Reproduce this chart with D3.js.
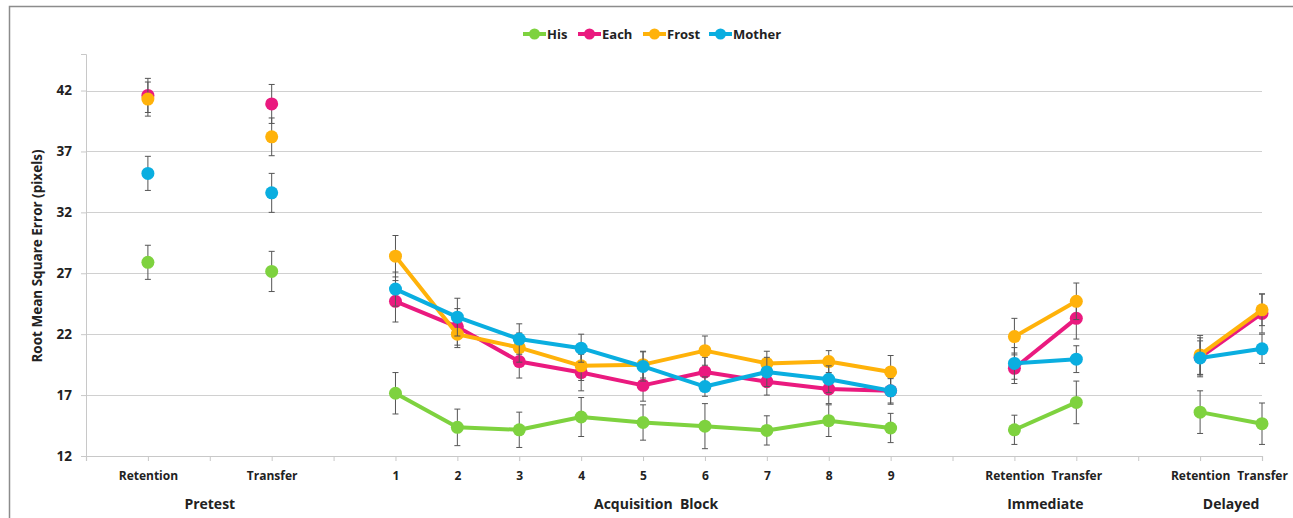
<!DOCTYPE html>
<html>
<head>
<meta charset="utf-8">
<script src="https://cdn.jsdelivr.net/npm/d3@7"></script>
<style>
  body { margin: 0; background: #fff; }
  text { font-family: "Open Sans", Lato, sans-serif; font-weight: bold; fill: #222; }
</style>
</head>
<body>
<div id="chart"></div>
<script>
/* CONSTANTS AND GLOBALS */
const width = 1293,
  height = 518,
  margin = { top: 54, bottom: 62, left: 86, right: 31 };

// category slots along the x axis (s* = empty slot)
const slots = ["s0", "preRet", "s2", "preTr", "s4", "b1", "b2", "b3", "b4", "b5", "b6", "b7", "b8", "b9",
  "s14", "immRet", "immTr", "s17", "delRet", "delTr"];
const tickLabels = { preRet: "Retention", preTr: "Transfer", b1: "1", b2: "2", b3: "3", b4: "4", b5: "5",
  b6: "6", b7: "7", b8: "8", b9: "9", immRet: "Retention", immTr: "Transfer", delRet: "Retention", delTr: "Transfer" };
const groups = [
  { label: "Pretest", from: "preRet", to: "preTr" },
  { label: "Acquisition  Block", from: "b1", to: "b9", shift: 13 },
  { label: "Immediate", from: "immRet", to: "immTr" },
  { label: "Delayed", from: "delRet", to: "delTr" }
];
// line segments (pretest points are not joined)
const segments = [
  ["b1", "b2", "b3", "b4", "b5", "b6", "b7", "b8", "b9"],
  ["immRet", "immTr"],
  ["delRet", "delTr"]
];
const pointKeys = ["preRet", "preTr", "b1", "b2", "b3", "b4", "b5", "b6", "b7", "b8", "b9", "immRet", "immTr", "delRet", "delTr"];

const seriesNames = ["His", "Each", "Frost", "Mother"];
const colors = ["#7ed23f", "#ea1a7f", "#ffb20a", "#0aaee0"];

// means, one per point key
const hisValues = [27.9, 27.15, 17.15, 14.35, 14.15, 15.2, 14.75, 14.45, 14.1, 14.9, 14.3, 14.15, 16.4, 15.6, 14.65];
const eachValues = [41.6, 40.9, 24.7, 22.6, 19.75, 18.85, 17.8, 18.9, 18.1, 17.5, 17.35, 19.2, 23.3, 20.1, 23.7];
const frostValues = [41.3, 38.2, 28.4, 22.0, 20.9, 19.4, 19.5, 20.65, 19.6, 19.75, 18.9, 21.8, 24.7, 20.3, 24.0];
const motherValues = [35.2, 33.6, 25.7, 23.4, 21.6, 20.85, 19.35, 17.7, 18.9, 18.3, 17.35, 19.6, 19.95, 20.05, 20.8];

// error bar half widths
const hisErr = [1.4, 1.65, 1.7, 1.5, 1.45, 1.6, 1.45, 1.85, 1.2, 1.3, 1.2, 1.2, 1.75, 1.75, 1.7];
const eachErr = [1.4, 1.6, 1.7, 1.5, 1.35, 1.5, 1.3, 1.2, 1.1, 1.2, 1.1, 1.25, 1.7, 1.6, 1.6];
const frostErr = [1.4, 1.55, 1.7, 1.1, 1.2, 1.2, 1.1, 1.2, 1.0, 0.9, 1.35, 1.5, 1.5, 1.6, 1.3];
const motherErr = [1.4, 1.6, 1.4, 1.55, 1.25, 1.15, 1.2, 0.8, 1.2, 1.1, 1.0, 1.3, 1.1, 1.4, 1.2];

const yTicks = [12, 17, 22, 27, 32, 37, 42];

const allValues = [hisValues, eachValues, frostValues, motherValues];
const allErr = [hisErr, eachErr, frostErr, motherErr];

/* SCALES */
const xScale = d3.scalePoint()
  .domain(slots)
  .range([margin.left, width - margin.right]);

const yScale = d3.scaleLinear()
  .domain([12, 45])
  .range([height - margin.bottom, margin.top]);

const svg = d3.select("#chart")
  .append("svg")
  .attr("width", width)
  .attr("height", height);

// outer frame
svg.append("path")
  .attr("d", `M9.5,${height}V6.5H${width}`)
  .attr("fill", "none")
  .attr("stroke", "#8c8c8c")
  .attr("stroke-width", 1.5);

// gridlines
svg.append("g")
  .selectAll("line")
  .data(yTicks.slice(1))
  .join("line")
  .attr("x1", margin.left)
  .attr("x2", width - margin.right)
  .attr("y1", d => Math.round(yScale(d)) + 0.5)
  .attr("y2", d => Math.round(yScale(d)) + 0.5)
  .attr("stroke", "#d0d0d0")
  .attr("stroke-width", 1.2);

// y axis
const yAxis = d3.axisLeft(yScale).tickValues(yTicks).tickSize(5).tickPadding(9);
const yAxisGroup = svg.append("g")
  .attr("transform", `translate(${margin.left}, 0)`)
  .call(yAxis);
yAxisGroup.select(".domain").attr("stroke", "#c8c8c8");
yAxisGroup.selectAll(".tick line").attr("stroke", "#c8c8c8");
yAxisGroup.selectAll(".tick text")
  .style("font-size", "13.5px")
  .attr("fill", "#222");

// x axis
const xAxis = d3.axisBottom(xScale)
  .tickFormat(d => tickLabels[d] || "")
  .tickSize(5)
  .tickPadding(10);
const xAxisGroup = svg.append("g")
  .attr("transform", `translate(0, ${height - margin.bottom})`)
  .call(xAxis);
xAxisGroup.select(".domain").attr("stroke", "#c8c8c8").attr("stroke-width", 1.2);
xAxisGroup.selectAll(".tick line").attr("stroke", "#c8c8c8");
xAxisGroup.selectAll(".tick text")
  .style("font-size", "12px")
  .attr("fill", "#222");

// group labels
svg.append("g")
  .selectAll("text")
  .data(groups)
  .join("text")
  .attr("x", d => (xScale(d.from) + xScale(d.to)) / 2 + (d.shift || 0))
  .attr("y", 509)
  .attr("text-anchor", "middle")
  .style("font-size", "14px")
  .style("white-space", "pre")
  .text(d => d.label);

// y axis title
svg.append("text")
  .attr("transform", `translate(42, 256) rotate(-90)`)
  .attr("text-anchor", "middle")
  .style("font-size", "13.5px")
  .text("Root Mean Square Error (pixels)");

/* SERIES */
const line = d3.line()
  .x(d => xScale(d.key))
  .y(d => yScale(d.value));

seriesNames.forEach((name, si) => {
  const pts = pointKeys.map((k, i) => ({ key: k, value: allValues[si][i], err: allErr[si][i] }));
  const g = svg.append("g").attr("class", "series-" + name);

  // error bars
  const eb = g.selectAll(".err")
    .data(pts)
    .join("g")
    .attr("class", "err")
    .attr("stroke", "#555")
    .attr("stroke-width", 1);
  eb.append("line")
    .attr("x1", d => xScale(d.key)).attr("x2", d => xScale(d.key))
    .attr("y1", d => yScale(d.value + d.err)).attr("y2", d => yScale(d.value - d.err));
  eb.append("line")
    .attr("x1", d => xScale(d.key) - 3).attr("x2", d => xScale(d.key) + 3)
    .attr("y1", d => yScale(d.value + d.err)).attr("y2", d => yScale(d.value + d.err));
  eb.append("line")
    .attr("x1", d => xScale(d.key) - 3).attr("x2", d => xScale(d.key) + 3)
    .attr("y1", d => yScale(d.value - d.err)).attr("y2", d => yScale(d.value - d.err));

  // joined segments
  segments.forEach(seg => {
    g.append("path")
      .datum(pts.filter(p => seg.includes(p.key)))
      .attr("d", line)
      .attr("fill", "none")
      .attr("stroke", colors[si])
      .attr("stroke-width", 4)
      .attr("stroke-linejoin", "round");
  });

  // markers
  g.selectAll("circle")
    .data(pts)
    .join("circle")
    .attr("cx", d => xScale(d.key))
    .attr("cy", d => yScale(d.value))
    .attr("r", 6.5)
    .attr("fill", colors[si]);
});

/* LEGEND */
const legendX = [523, 578, 643, 709];
const legend = svg.append("g")
  .selectAll("g")
  .data(seriesNames)
  .join("g")
  .attr("transform", (d, i) => `translate(${legendX[i]}, 34)`);
legend.append("line")
  .attr("x1", 0).attr("x2", 23)
  .attr("stroke", (d, i) => colors[i])
  .attr("stroke-width", 4);
legend.append("circle")
  .attr("cx", 11.5).attr("r", 5.5)
  .attr("fill", (d, i) => colors[i]);
legend.append("text")
  .attr("x", 24)
  .attr("dy", "0.35em")
  .style("font-size", "13px")
  .text(d => d);
</script>
</body>
</html>
